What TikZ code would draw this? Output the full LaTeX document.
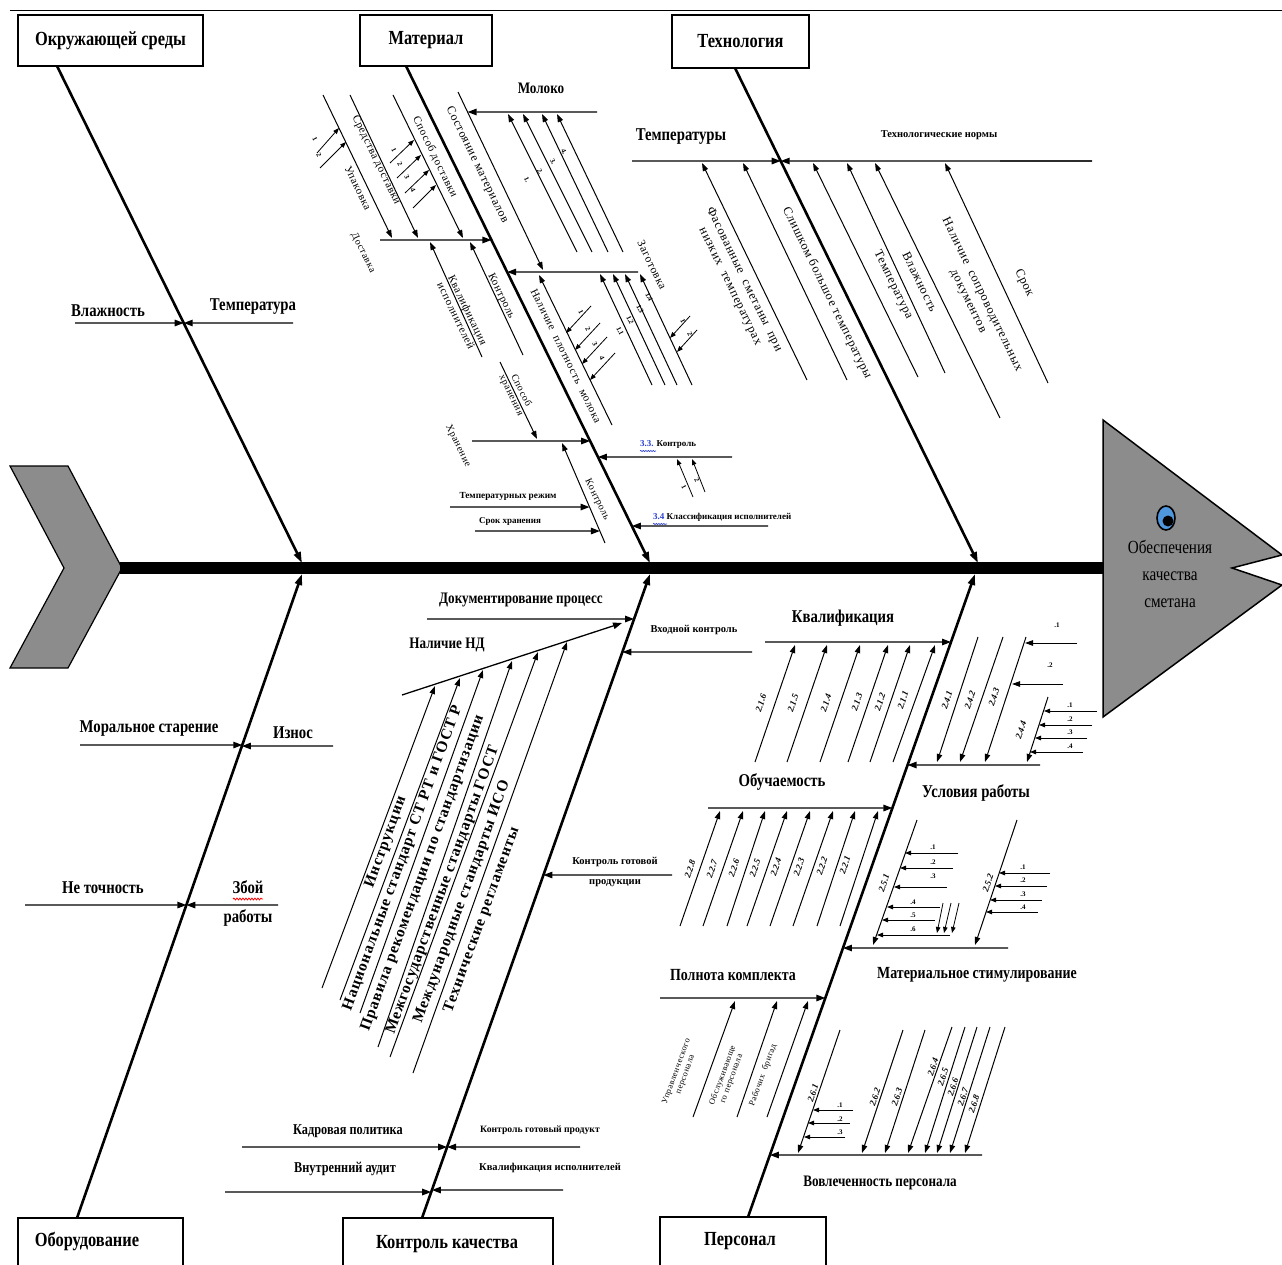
\documentclass[tikz,border=0pt]{standalone}
\usepackage{fontspec}
\setmainfont{Liberation Serif}[FakeStretch=0.82]
\newfontfamily\plainfont{Liberation Serif}
\newfontfamily\spacedfont{Liberation Serif}[LetterSpace=6]
\usetikzlibrary{arrows.meta,decorations.pathmorphing}
\definecolor{fishgray}{RGB}{140,140,140}
\definecolor{iconblue}{RGB}{80,150,220}
\definecolor{numblue}{RGB}{40,60,210}
\tikzset{
  bone/.style={line width=2.6pt,-{Triangle[length=11pt,width=7pt]}},
  arr/.style={line width=1.3pt,-{Triangle[length=9pt,width=6.5pt]}},
  sarr/.style={line width=1pt,-{Triangle[length=8pt,width=5.5pt]}},
  tarr/.style={line width=0.8pt,-{Triangle[length=6pt,width=4.5pt]}},
  catbox/.style={draw,line width=1.2pt,inner sep=0pt,font=\bfseries\fontsize{20}{22}\selectfont},
  cattext/.style={inner sep=0pt,font=\bfseries\fontsize{20}{22}\selectfont},
  lab/.style={inner sep=0pt,font=\bfseries\fontsize{#1}{#1}\selectfont},
  lab/.default=18,
  slab/.style={inner sep=0pt,font=\plainfont\bfseries\fontsize{#1}{#1}\selectfont},
  slab/.default=10.5,
  rtxt/.style={inner sep=0pt,align=center,font=\spacedfont\fontsize{#1}{#1}\selectfont},
  rtxt/.default=11.5,
  blab/.style={inner sep=0pt,rotate=70,font=\spacedfont\bfseries\fontsize{15.5}{15.5}\selectfont},
  nlab/.style={inner sep=0pt,rotate=71,font=\plainfont\bfseries\itshape\fontsize{9}{9}\selectfont},
  num/.style={inner sep=0pt,font=\plainfont\bfseries\fontsize{7}{7}\selectfont},
}
\begin{document}
\begin{tikzpicture}[x=1pt,y=-1pt]
\useasboundingbox (0,0) rectangle (1282,1265);
\clip (0,0) rectangle (1282,1265);
\draw[line width=0.8pt] (10,10) -- (1282,10);

% ---------- tail, spine, head ----------
\filldraw[fill=fishgray,line width=1.2pt] (10,466) -- (68,466) -- (122,568) -- (68,668) -- (10,668) -- (64,568) -- cycle;
\coordinate (spL) at (120,568);
\coordinate (spR) at (1104,568);
\draw[line width=12pt] (spL) -- (spR);
\filldraw[fill=fishgray,line width=1.5pt] (1103,420) -- (1282,555) -- (1232,568) -- (1282,585) -- (1103,717) -- cycle;
\node[inner sep=0pt,align=center,font=\fontsize{18.5}{27}\selectfont] (effect) at (1170,574) {Обеспечения\\качества\\сметана};
\filldraw[fill=iconblue,line width=1.6pt] (1166,518) ellipse (9pt and 12pt);
\fill (1168,521) circle (5.5pt);

% ---------- category boxes ----------
\node[catbox,minimum width=185pt,minimum height=51pt] (envbox) at (110.5,40.5) {Окружающей среды};
\node[catbox,minimum width=132pt,minimum height=51pt] (matbox) at (426,40.5) {Материал};
\node[catbox,minimum width=137pt,minimum height=53pt] (techbox) at (740.5,41.5) {Технология};
\draw[line width=1.2pt] (18,1270) |- (183,1218) -- (183,1270);
\node[cattext] (eqtext) at (87,1241) {Оборудование};
\draw[line width=1.2pt] (343,1270) |- (553,1218) -- (553,1270);
\node[cattext] (kktext) at (447,1244) {Контроль качества};
\draw[line width=1.2pt] (660,1270) |- (826,1217) -- (826,1270);
\node[cattext] (perstext) at (740,1241) {Персонал};

% ---------- main bones ----------
\coordinate (E1) at (57,66);   \coordinate (E2) at (302,563);
\coordinate (M1) at (406,66);  \coordinate (M2) at (650,563);
\coordinate (T1) at (735,68);  \coordinate (T2) at (978,563);
\coordinate (O1) at (77,1218); \coordinate (O2) at (302,574);
\coordinate (K1) at (422,1218);\coordinate (K2) at (650,574);
\coordinate (P1) at (748,1217);\coordinate (P2) at (975,574);
\draw[bone] (E1) -- (E2);
\draw[bone] (M1) -- (M2);
\draw[bone] (T1) -- (T2);
\draw[bone] (O1) -- (O2);
\draw[bone] (K1) -- (K2);
\draw[bone] (P1) -- (P2);

% ---------- environment ----------
\node[lab] (vlag) at (108,311) {Влажность};
\draw[arr] (75,323) -- (intersection of E1--E2 and 0,323--1282,323);
\node[lab] (temp) at (253,307) {Температура};
\draw[arr] (293,323) -- (intersection of E1--E2 and 0,323--1282,323);

% ---------- equipment ----------
\node[lab] (moral) at (149,729) {Моральное старение};
\draw[arr] (80,745) -- (intersection of O1--O2 and 0,745--1282,745);
\node[lab] (iznos) at (293,733) {Износ};
\draw[arr] (333,746) -- (intersection of O1--O2 and 0,746--1282,746);
\node[lab] (netoch) at (103,888) {Не точность};
\draw[arr] (25,905) -- (intersection of O1--O2 and 0,905--1282,905);
\node[lab] (zboy) at (248,887) {Збой};
\node[lab] (rab) at (248,918) {работы};
\draw[red,line width=0.8pt,decorate,decoration={snake,amplitude=0.9pt,segment length=3pt}] (233,899) -- (263,899);
\draw[arr] (278,905) -- (intersection of O1--O2 and 0,905--1282,905);

% ---------- material ----------
\coordinate (D1) at (458,92); \coordinate (D2) at (543,270);
\draw[sarr] (D1) -- (D2);
\node[rtxt=12,rotate=-64] (sost) at (477,165) {Состояние материалов};
\node[lab=16] (milk) at (541,88) {Молоко};
\draw[arr] (597,112) -- (intersection of D1--D2 and 0,112--1282,112);
\foreach \bx/\tx in {577/508,592/523,608/542,623/557} \draw[sarr] (\bx,252) -- (\tx,114);
\foreach \lx/\ly/\t in {527/180/1,540/172/2,553/162/3,564/152/4} \node[num,rotate=-64] at (\lx,\ly) {\t.};

\draw[arr] (380,240) -- (intersection of M1--M2 and 0,240--1282,240);
\draw[sarr] (323,95) -- (392,238);
\draw[sarr] (350,95) -- (418,238);
\draw[sarr] (393,95) -- (463,238);
\draw[tarr] (317,153) -- (339,128);
\draw[tarr] (320,168) -- (346,142);
\node[num,rotate=-64] at (315,139) {1};
\node[num,rotate=-64] at (319,155) {2};
\draw[tarr] (390,163) -- (414,140);
\draw[tarr] (397,178) -- (421,155);
\draw[tarr] (405,193) -- (429,170);
\draw[tarr] (413,208) -- (436,185);
\foreach \lx/\ly/\t in {394/150/1,400/164/2,407/177/3,413/190/4} \node[num,rotate=-64] at (\lx,\ly) {\t};
\node[rtxt=11,rotate=-64] (upak) at (358,188) {Упаковка};
\node[rtxt=11,rotate=-64] (sredst) at (376,160) {Средства доставки};
\node[rtxt=11,rotate=-64] (sposd) at (435,157) {Способ доставки};
\node[rtxt=10,rotate=-64] (dost) at (363,253) {Доставка};
\draw[sarr] (482,357) -- (430,242);
\draw[sarr] (523,355) -- (470,242);
\node[rtxt=11,rotate=-64] (kvalisp) at (462,313) {Квалификация\\[2pt]исполнителей};
\node[rtxt=11,rotate=-64] (kontr1) at (501,296) {Контроль};

\draw[arr] (638,272) -- (intersection of M1--M2 and 0,272--1282,272);
\node[rtxt=11.5,rotate=-64] (zagot) at (652,265) {Заготовка};
\foreach \bx/\tx in {652/600,665/613,677/625,692/640} \draw[sarr] (\bx,385) -- (\tx,274);
\foreach \lx/\ly/\t in {620/331/1.1,630/320/1.2,640/309/1.3,649/297/1.4} \node[num,rotate=-64] at (\lx,\ly) {\t};
\draw[tarr] (690,316) -- (670,338);
\draw[tarr] (697,330) -- (677,352);
\node[num,rotate=-64] at (683,321) {1};
\node[num,rotate=-64] at (690,334) {2};
\coordinate (N1) at (612,425); \coordinate (N2) at (539,275);
\draw[sarr] (N1) -- (N2);
\node[rtxt=11,rotate=-64] (nalpl) at (566,356) {Наличие \ плотность \ молока};
\draw[tarr] (591,306) -- (566,333);
\draw[tarr] (600,323) -- (575,350);
\draw[tarr] (607,337) -- (582,364);
\draw[tarr] (615,353) -- (590,380);
\foreach \lx/\ly/\t in {581/312/1,588/329/2,595/344/3,602/358/4} \node[num,rotate=-64] at (\lx,\ly) {\t};

\draw[arr] (472,441) -- (intersection of M1--M2 and 0,441--1282,441);
\draw[sarr] (500,362) -- (537,439);
\node[rtxt=10,rotate=-64] (sposhr) at (516,393) {Способ\\[1pt]хранения};
\node[rtxt=10,rotate=-64] (hran) at (458,446) {Хранение};
\coordinate (C1) at (605,543); \coordinate (C2) at (562,443);
\draw[sarr] (C1) -- (C2);
\node[rtxt=10,rotate=-64] (kontr2) at (597,500) {Контроль};
\node[slab=9.3] (tempr) at (508,496) {Температурных режим};
\draw[arr] (450,507) -- (intersection of C1--C2 and 0,507--1282,507);
\node[slab=9] (srok) at (510,521) {Срок хранения};
\draw[arr] (475,531) -- (intersection of C1--C2 and 0,531--1282,531);

\node[slab=9,anchor=west] (k33) at (640,444) {\textcolor{numblue}{3.3.} Контроль};
\draw[numblue,line width=0.6pt,decorate,decoration={snake,amplitude=0.6pt,segment length=2.5pt}] (640,451) -- (656,451);
\draw[arr] (732,457) -- (intersection of M1--M2 and 0,457--1282,457);
\draw[tarr] (693,497) -- (677,459);
\draw[tarr] (705,492) -- (692,459);
\node[num,rotate=-64] at (684,487) {1};
\node[num,rotate=-64] at (697,480) {2};
\node[slab=9,anchor=west] (k34) at (653,517) {\textcolor{numblue}{3.4} Классификация исполнителей};
\draw[numblue,line width=0.6pt,decorate,decoration={snake,amplitude=0.6pt,segment length=2.5pt}] (653,524) -- (667,524);
\draw[arr] (768,526) -- (intersection of M1--M2 and 0,526--1282,526);

% ---------- technology ----------
\node[lab] (temps) at (681,137) {Температуры};
\draw[arr] (632,161) -- (intersection of T1--T2 and 0,161--1282,161);
\node[slab] (technorm) at (939,135) {Технологические нормы};
\draw[gray,line width=2.2pt] (1000,161) -- (1092,161);
\draw[arr] (1092,161) -- (intersection of T1--T2 and 0,161--1282,161);
\draw[sarr] (807,380) -- (702,163);
\draw[sarr] (847,380) -- (743,163);
\draw[sarr] (918,377) -- (813,163);
\draw[sarr] (945,373) -- (847,163);
\draw[sarr] (1000,418) -- (875,163);
\draw[sarr] (1048,383) -- (945,163);
\node[rtxt=12.5,rotate=-64] (fas) at (737,283) {Фасованные \ сметаны \ при\\[3pt]низких \ температурах};
\node[rtxt=12.5,rotate=-64] (slish) at (827,293) {Слишком большое температуры};
\node[rtxt=12.5,rotate=-64] (ttemp) at (893,285) {Температура};
\node[rtxt=12.5,rotate=-64] (tvlag) at (920,282) {Влажность};
\node[rtxt=12.5,rotate=-64] (nalsop) at (975,298) {Наличие \ сопроводительных\\[3pt]документов};
\node[rtxt=12.5,rotate=-64] (tsrok) at (1024,283) {Срок};

% ---------- quality control ----------
\node[lab=16] (docproc) at (521,600) {Документирование процесс};
\draw[arr] (427,619) -- (intersection of K1--K2 and 0,619--1282,619);
\node[lab=16] (nalnd) at (447,645) {Наличие НД};
\coordinate (ND1) at (402,695); \coordinate (ND2) at (622,623);
\draw[arr] (ND1) -- (ND2);
\foreach \bx/\by/\tx/\ty in {322/988/435/686,340/1000/460/678,360/1013/483/670,378/1047/512/661,390/1057/538/652,413/1073/567/642}
  \draw[sarr] (\bx,\by) -- (\tx,\ty);
\node[blab] (instr) at (386,842) {Инструкции};
\node[blab] (nacst) at (403,858) {Национальные стандарт СТ РТ и ГОСТ Р};
\node[blab] (pravila) at (423,873) {Правила рекомендации по стандартизации};
\node[blab] (mezhgos) at (443,890) {Межгосударственные стандарты ГОСТ};
\node[blab] (mezhd) at (462,902) {Международные стандарты ИСО};
\node[blab] (tehreg) at (482,920) {Технические регламенты};
\node[slab] (vhod) at (694,630) {Входной контроль};
\draw[arr] (752,652) -- (intersection of K1--K2 and 0,652--1282,652);
\node[slab] (kgot1) at (615,862) {Контроль готовой};
\node[slab] (kgot2) at (615,883) {продукции};
\draw[arr] (672,875) -- (intersection of K1--K2 and 0,875--1282,875);
\node[lab=15] (kadr) at (348,1131) {Кадровая политика};
\draw[arr] (242,1147) -- (intersection of K1--K2 and 0,1147--1282,1147);
\node[slab=9.7] (kgp) at (540,1130) {Контроль готовый продукт};
\draw[arr] (580,1147) -- (intersection of K1--K2 and 0,1147--1282,1147);
\node[lab=15] (audit) at (345,1169) {Внутренний аудит};
\draw[arr] (225,1192) -- (intersection of K1--K2 and 0,1192--1282,1192);
\node[slab=10.5] (kvalisp2) at (550,1168) {Квалификация исполнителей};
\draw[arr] (563,1190) -- (intersection of K1--K2 and 0,1190--1282,1190);

% ---------- personnel ----------
\node[lab] (kval) at (843,618) {Квалификация};
\draw[arr] (765,642) -- (intersection of P1--P2 and 0,642--1282,642);
\foreach \bx/\tx in {755/795,787/827,820/860,848/888,870/910,893/935} \draw[sarr] (\bx,762) -- (\tx,645);
\foreach \lx/\ly/\t in {761/703/2.1.6,793/703/2.1.5,826/703/2.1.4,857/702/2.1.3,880/702/2.1.2,903/700/2.1.1} \node[nlab] at (\lx,\ly) {\t};

\node[lab] (obuch) at (782,782) {Обучаемость};
\draw[arr] (708,808) -- (intersection of P1--P2 and 0,808--1282,808);
\foreach \bx/\tx in {680/720,703/743,727/765,747/787,770/810,793/833,817/855,840/878} \draw[sarr] (\bx,926) -- (\tx,811);
\foreach \lx/\ly/\t in {690/869/2.2.8,712/869/2.2.7,734/868/2.2.6,755/868/2.2.5,776/867/2.2.4,799/867/2.2.3,822/866/2.2.2,845/865/2.2.1} \node[nlab] at (\lx,\ly) {\t};

\draw[arr] (1040,765) -- (intersection of P1--P2 and 0,765--1282,765);
\node[lab] (uslov) at (976,793) {Условия работы};
\draw[sarr] (978,637) -- (937,762);
\draw[sarr] (1003,637) -- (960,762);
\draw[sarr] (1026,637) -- (985,762);
\draw[sarr] (1048,697) -- (1027,762);
\foreach \lx/\ly/\t in {947/700/2.4.1,970/700/2.4.2,994/697/2.4.3,1021/730/2.4.4} \node[nlab] at (\lx,\ly) {\t};
\node[num] at (1057,625) {.1};
\draw[sarr] (1077,643) -- (1025,643);
\node[num] at (1050,665) {.2};
\draw[sarr] (1063,684) -- (1012,684);
\foreach \yy/\xx/\hx in {711/1097/1044,725/1092/1039,738/1087/1035,752/1083/1030} \draw[tarr] (\xx,\yy) -- (\hx,\yy);
\foreach \ly/\t in {705/.1,719/.2,732/.3,746/.4} \node[num] at (1070,\ly) {\t};

\draw[arr] (1008,948) -- (intersection of P1--P2 and 0,948--1282,948);
\node[lab=17] (matst) at (977,975) {Материальное стимулирование};
\draw[sarr] (917,820) -- (873,945);
\draw[sarr] (1017,820) -- (975,945);
\node[nlab] at (884,883) {2.5.1};
\node[nlab] at (988,883) {2.5.2};
\foreach \yy/\xx/\hx in {853/958/905,868/953/900,887/947/894,907/940/887,920/935/882,935/950/877} \draw[tarr] (\xx,\yy) -- (\hx,\yy);
\foreach \ly/\t in {847/.1,862/.2,876/.3} \node[num] at (933,\ly) {\t};
\foreach \ly/\t in {902/.4,915/.5,929/.6} \node[num] at (913,\ly) {\t};
\draw[tarr] (943,903) -- (937,933);
\draw[tarr] (951,903) -- (944,933);
\draw[tarr] (959,903) -- (952,933);
\foreach \yy/\xx/\hx in {873/1050/999,886/1047/995,900/1042/990,912/1038/986} \draw[tarr] (\xx,\yy) -- (\hx,\yy);
\foreach \ly/\t in {867/.1,880/.2,894/.3,907/.4} \node[num] at (1023,\ly) {\t};

\node[lab=17] (polnota) at (733,975) {Полнота комплекта};
\draw[arr] (660,998) -- (intersection of P1--P2 and 0,998--1282,998);
\draw[sarr] (693,1117) -- (735,1001);
\draw[sarr] (737,1117) -- (777,1001);
\draw[sarr] (767,1117) -- (808,1001);
\node[rtxt=8.5,rotate=70] (uprav) at (681,1073) {Управленческого\\[1pt]персонала};
\node[rtxt=8.5,rotate=70] (obsl) at (727,1077) {Обслуживающе\\[1pt]го персонала};
\node[rtxt=8.5,rotate=70] (rabbr) at (763,1075) {Рабочих \ бригад};

\draw[arr] (982,1155) -- (intersection of P1--P2 and 0,1155--1282,1155);
\node[lab=16] (vovl) at (880,1183) {Вовлеченность персонала};
\foreach \tx/\ty/\hx in {840/1030/798,903/1030/862,925/1030/885,952/1027/908,965/1027/925,977/1027/937,990/1027/950,1005/1027/965} \draw[sarr] (\tx,\ty) -- (\hx,1153);
\foreach \lx/\ly/\t in {813/1093/2.6.1,875/1097/2.6.2,897/1097/2.6.3,933/1067/2.6.4,943/1077/2.6.5,953/1087/2.6.6,963/1097/2.6.7,974/1104/2.6.8} \node[nlab] at (\lx,\ly) {\t};
\foreach \yy/\xx/\hx in {1110/853/813,1123/850/808,1137/845/804} \draw[tarr] (\xx,\yy) -- (\hx,\yy);
\foreach \ly/\t in {1105/.1,1119/.2,1132/.3} \node[num] at (840,\ly) {\t};
\end{tikzpicture}
\end{document}
